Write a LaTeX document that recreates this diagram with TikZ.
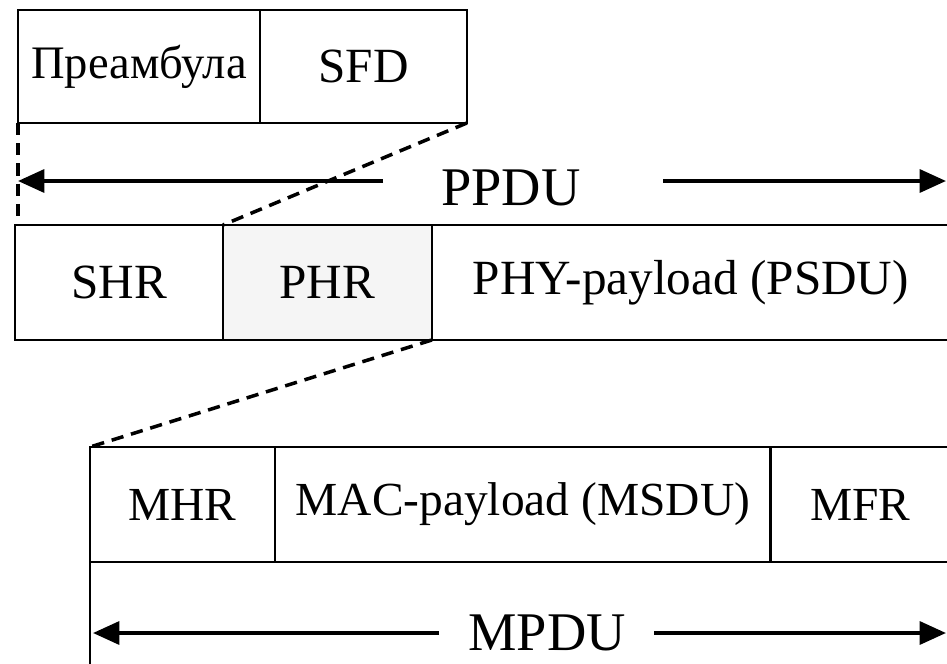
\documentclass[tikz,border=0pt]{standalone}
\usepackage{fontspec}
\setmainfont{Liberation Serif}
\usetikzlibrary{positioning,arrows.meta}
\tikzset{
  field/.style={draw,line width=1.6pt,outer sep=0pt,inner sep=0pt,anchor=north west,
    minimum height=2.3cm,font=\fontsize{28}{32}\selectfont},
  pdulabel/.style={font=\fontsize{31}{36}\selectfont,anchor=base,inner sep=0pt},
  span/.style={line width=2.2pt,-{Triangle[length=15pt,width=13pt]}},
  zoomline/.style={line width=2pt,dash pattern=on 7pt off 4.5pt},
}
\begin{document}
\begin{tikzpicture}[x=0.02cm,y=-0.02cm]
  \useasboundingbox (0,0) rectangle (947,663);
  % preamble and SFD
  \node[field,minimum width=4.84cm,minimum height=2.26cm,font=\fontsize{26.5}{32}\selectfont] (pre) at (18,10) {Преамбула};
  \node[field,minimum width=4.14cm,minimum height=2.26cm,right=0pt of pre] (sfd) {SFD};
  % PPDU
  \node[field,minimum width=4.16cm] (shr) at (15,225) {SHR};
  \node[field,minimum width=4.18cm,fill=gray!8,right=0pt of shr] (phr) {PHR};
  \node[field,minimum width=10.36cm,right=0pt of phr] (psdu) {PHY-payload (PSDU)};
  \node[pdulabel] (ppdu) at (511,205) {PPDU};
  \coordinate (ppduA) at (383,181);
  \coordinate (ppduL) at (18,181);
  \coordinate (ppduB) at (663,181);
  \coordinate (ppduR) at (946,181);
  \draw[span] (ppduA) -- (ppduL);
  \draw[span] (ppduB) -- (ppduR);
  % MPDU
  \node[field,minimum width=3.7cm,font=\fontsize{27}{32}\selectfont] (mhr) at (90,447) {MHR};
  \node[field,minimum width=9.92cm,font=\fontsize{27}{32}\selectfont,right=0pt of mhr] (msdu) {MAC-payload (MSDU)};
  \node[field,minimum width=3.58cm,font=\fontsize{27}{32}\selectfont,right=0pt of msdu] (mfr) {MFR};
  \coordinate (mpduEnd) at (90,670);
  \draw[line width=1.6pt] (mhr.south west) -- (mpduEnd);
  \node[pdulabel] (mpdu) at (547,650) {MPDU};
  \coordinate (mpduA) at (439,633);
  \coordinate (mpduL) at (93,633);
  \coordinate (mpduB) at (654,633);
  \coordinate (mpduR) at (946,633);
  \draw[span] (mpduA) -- (mpduL);
  \draw[span] (mpduB) -- (mpduR);
  % zoom lines
  \draw[zoomline] (pre.south west) -- (pre.south west |- shr.north);
  \draw[zoomline] (sfd.south east) -- (shr.north east);
  \draw[zoomline] (phr.south east) -- (mhr.north west);
\end{tikzpicture}
\end{document}
